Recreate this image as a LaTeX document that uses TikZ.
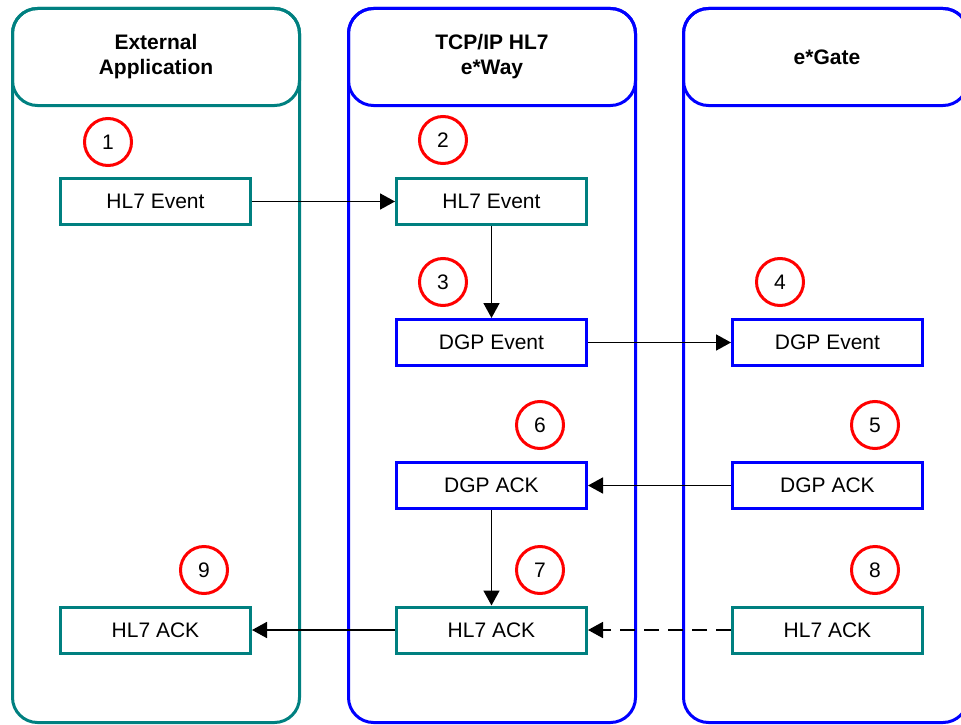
\documentclass[tikz,border=0pt]{standalone}
\usepackage{fontspec}
\setmainfont{Liberation Sans}
\usetikzlibrary{arrows.meta}
\definecolor{tealc}{RGB}{0,128,128}
\definecolor{bluec}{RGB}{0,0,255}
\begin{document}
\begin{tikzpicture}[x=1pt,y=-1pt,
 lane/.style={line width=3pt, rounded corners=25pt},
 box/.style={draw, line width=3pt, minimum width=190pt, minimum height=46pt, inner sep=0pt, font=\fontsize{21}{25}\selectfont},
 hbox/.style={box, draw=tealc},
 dbox/.style={box, draw=bluec},
 num/.style={circle, draw=red, line width=3pt, minimum size=47pt, inner sep=0pt, font=\fontsize{21}{25}\selectfont},
 arr/.style={line width=1.7pt, -{Triangle[length=15pt,width=16pt]}},
 head/.style={font=\fontsize{21}{25}\selectfont\bfseries, align=center}
]
\clip (0,0) rectangle (961,725);
% lanes
\draw[lane, tealc] (12.5,8.5) rectangle (299.5,722.5);
\draw[lane, tealc] (12.5,8.5) rectangle (299.5,105.5);
\draw[lane, bluec] (348.5,8.5) rectangle (635.5,722.5);
\draw[lane, bluec] (348.5,8.5) rectangle (635.5,105.5);
\draw[lane, bluec] (683.5,8.5) rectangle (968,722.5);
\draw[lane, bluec] (683.5,8.5) rectangle (968,105.5);
% headers
\node[head] (h1) at (156,57) {External\\Application};
\node[head] (h2) at (492,57) {TCP/IP HL7\\e*Way};
\node[head] (h3) at (827,57) {e*Gate};
% boxes
\node[hbox] (a1) at (155.5,201.5) {HL7 Event};
\node[hbox] (b1) at (491.5,201.5) {HL7 Event};
\node[dbox] (b2) at (491.5,342.5) {DGP Event};
\node[dbox] (c2) at (827.5,342.5) {DGP Event};
\node[dbox] (c3) at (827.5,485.5) {DGP ACK};
\node[dbox] (b3) at (491.5,485.5) {DGP ACK};
\node[hbox] (b4) at (491.5,630) {HL7 ACK};
\node[hbox] (a4) at (155.5,630) {HL7 ACK};
\node[hbox] (c4) at (827.5,630) {HL7 ACK};
% numbers
\node[num] (n1) at (108,142) {1};
\node[num] (n2) at (443,140) {2};
\node[num] (n3) at (443,282) {3};
\node[num] (n4) at (780,282) {4};
\node[num] (n5) at (875,425) {5};
\node[num] (n6) at (540,425) {6};
\node[num] (n7) at (540,570) {7};
\node[num] (n8) at (875,570) {8};
\node[num] (n9) at (204,570) {9};
% connectors
\draw[arr] (a1) -- (b1);
\draw[arr] (b1) -- (b2);
\draw[arr] (b2) -- (c2);
\draw[arr] (c3) -- (b3);
\draw[arr] (b3) -- (b4);
\draw[arr] (b4) -- (a4);
\draw[arr, dash pattern=on 15pt off 9pt] (c4) -- (b4);
\end{tikzpicture}
\end{document}
